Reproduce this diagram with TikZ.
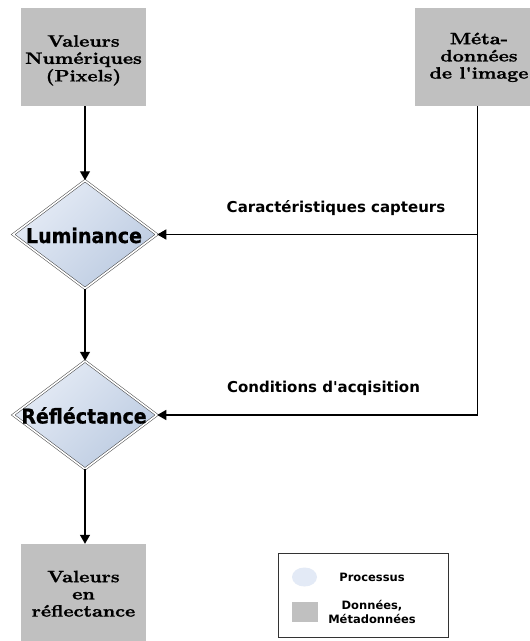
\documentclass[tikz,border=0pt]{standalone}
\usepackage{fontspec}
\usetikzlibrary{shapes.geometric,arrows.meta}
\newfontfamily\dvsans{DejaVu Sans}
\newfontfamily\dvsansheavy{DejaVu Sans Bold}[FakeBold=0.8]
\newfontfamily\boxfont{lmroman10-bold.otf}[FakeBold=1.2]
\definecolor{boxgray}{HTML}{C0C0C0}
\definecolor{procA}{HTML}{E6ECF6}
\definecolor{procB}{HTML}{BCCBE1}
\definecolor{legblue}{HTML}{E3EAF6}
\begin{document}
\begin{tikzpicture}[x=1pt,y=-1pt,
  data/.style={fill=boxgray, minimum width=125pt, minimum height=98pt, inner sep=0pt},
  datatext/.style={font=\boxfont\fontsize{16.5}{17.2}\selectfont, inner sep=0pt},
  proc/.style={diamond, aspect=1.333, minimum width=144pt, minimum height=108pt, inner sep=0pt,
    draw=black!75, line width=0.5pt, double=white, double distance=1.6pt,
    top color=procA, bottom color=procB, shading angle=45},
  proctext/.style={font=\dvsansheavy\fontsize{19}{20}\selectfont, inner sep=0pt, anchor=base},
  lbl/.style={font=\dvsans\bfseries\fontsize{15}{18}\selectfont, inner sep=0pt, anchor=base},
  legtext/.style={font=\dvsans\bfseries\fontsize{11.5}{14}\selectfont, inner sep=0pt, align=center},
  arr/.style={line width=1.3pt, -{Triangle[length=9pt,width=10pt]}},
  conn/.style={line width=1.3pt}]
\clip (0,0) rectangle (530,641);
\fill[white] (0,0) rectangle (530,641);

% data boxes
\node[data] (vn) at (83.5,57) {};
\node[datatext] (vnt) at (83.5,60.6) {\scalebox{1.17}[1]{\begin{tabular}{@{}c@{}}Valeurs\\Numériques\\(Pixels)\end{tabular}}};
\node[data] (meta) at (477.5,57) {};
\node[datatext] (metat) at (479,58) {\scalebox{1.17}[1]{\begin{tabular}{@{}c@{}}Méta-\\données\\de l'image\end{tabular}}};
\node[data] (vr) at (83.5,593) {};
\node[datatext] (vrt) at (83.5,596) {\scalebox{1.17}[1]{\begin{tabular}{@{}c@{}}Valeurs\\en\\réflectance\end{tabular}}};

% process diamonds
\node[proc] (lum) at (85,234.5) {};
\node[proctext] (lumt) at (84,243) {\scalebox{1}[1.07]{Luminance}};
\node[proc] (refl) at (85,415) {};
\node[proctext] (reflt) at (84,423.5) {\scalebox{1}[1.07]{Réfléctance}};

% connectors
\draw[arr] (vn.south -| lum.north) -- (lum.north);
\draw[arr] (lum.south) -- (refl.north);
\draw[arr] (refl.south) -- (refl.south |- vr.north);
\draw[conn] (meta.south) -- (meta.south |- refl.east);
\draw[arr] (meta.south |- refl.east) -- (refl.east);
\draw[arr] (meta.south |- lum.east) -- (lum.east);

% labels
\node[lbl] (l1) at (336,212) {Caractéristiques capteurs};
\node[lbl] (l2) at (323.5,392) {Conditions d'acqisition};

% legend
\node[draw=black!80, line width=0.8pt, minimum width=170pt, minimum height=84pt, inner sep=0pt] (leg) at (363,595) {};
\node[ellipse, fill=legblue, minimum width=25pt, minimum height=19pt, inner sep=0pt] (le) at (304.5,577) {};
\node[fill=boxgray, minimum width=26pt, minimum height=20pt, inner sep=0pt] (ls) at (305,612) {};
\node[legtext] (lt1) at (372,577) {Processus};
\node[legtext] (lt2) at (372,612) {Données,\\Métadonnées};
\end{tikzpicture}
\end{document}
